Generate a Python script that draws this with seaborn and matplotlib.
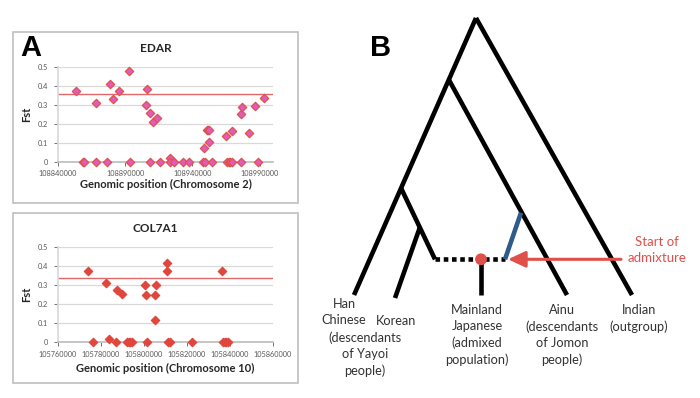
import matplotlib
matplotlib.use("Agg")
import matplotlib.pyplot as plt
from matplotlib.patches import Rectangle, Circle
import seaborn as sns
import pandas as pd

# ---- panel A data ----
edar_pos = [108853400, 108858300, 108859200, 108868000, 108868000, 108876200,
            108878700, 108880700, 108885400, 108892800, 108893600, 108906000,
            108905500, 108908500, 108908500, 108910700, 108913400, 108915600,
            108923100, 108923100, 108926600, 108933300, 108937500, 108947700,
            108949200, 108948700, 108950700, 108951700, 108952700, 108952700,
            108954400, 108965300, 108965700, 108967000, 108968200, 108969500,
            108969300, 108976000, 108977000, 108976000, 108981900, 108986800,
            108988800, 108993300]
edar_fst = [0.37, 0, 0, 0.31, 0, 0,
            0.41, 0.33, 0.37, 0.475, 0, 0.385,
            0.30, 0.255, 0, 0.207, 0.228, 0,
            0.02, 0, 0, 0, 0, 0,
            0, 0.07, 0.167, 0.167, 0.167, 0.103,
            0, 0.135, 0, 0, 0, 0,
            0.163, 0.25, 0.29, 0, 0.149, 0.295,
            0, 0.335]
edar_cut = 0.354
edar_ticks = [108840000, 108890000, 108940000, 108990000]

col_pos = [105774100, 105776500, 105782200, 105783600, 105787000, 105787300,
           105789600, 105792200, 105793000, 105793700, 105794300, 105800600,
           105800900, 105801200, 105805000, 105805600, 105805200, 105810500,
           105810500, 105811300, 105812100, 105822500, 105836200, 105836900,
           105837600, 105838300, 105839000]
col_fst = [0.373, 0, 0.308, 0.017, 0, 0.273,
           0.253, 0, 0, 0, 0, 0.30,
           0.245, 0, 0.245, 0.30, 0.117, 0.413,
           0.373, 0, 0, 0, 0.373, 0,
           0, 0, 0]
col_cut = 0.336
col_ticks = [105760000, 105780000, 105800000, 105820000, 105840000, 105860000]

fst_ticks = [0, 0.1, 0.2, 0.3, 0.4, 0.5]
fst_labels = ["0", "0.1", "0.2", "0.3", "0.4", "0.5"]

# ---- panel B tree (diagram coordinates, y grows downwards) ----
root = (476, 18)
tips = {"han": (354, 295), "korean": (395, 298), "japanese": (481, 295),
        "ainu": (567, 295), "indian": (632, 295)}
node_ainu = (449, 80)
node_han = (401, 188)
node_korean = (420, 227)
admix_left = (435, 259.3)
admix_node = (481, 259.3)
admix_right = (505, 259.3)
ainu_source = (521, 212.7)
arrow_from = (621, 259.3)
arrow_to = (508, 259.3)

# label block centres
tip_labels = [
    (344, 312.3, "Han\nChinese"),
    (365, 354, "(descendants\nof Yayoi\npeople)"),
    (396, 320.7, "Korean"),
    (477, 335, "Mainland\nJapanese\n(admixed\npopulation)"),
    (562, 335, "Ainu\n(descendants\nof Jomon\npeople)"),
    (639, 318.3, "Indian\n(outgroup)"),
]

sns.set_theme(style="white")
plt.rcParams["font.family"] = ["Lato", "DejaVu Sans"]

RED = "#e0504a"
PINK = "#e05cbc"
GRID = "#d9d9d9"
TXT = "#595959"

fig = plt.figure(figsize=(7, 3.98), dpi=100)

# overlay in pixel coordinates for frames, labels and the tree
bg = fig.add_axes([0, 0, 1, 1])
bg.set_xlim(0, 700)
bg.set_ylim(398, 0)
bg.axis("off")
bg.patch.set_alpha(0)

for top, h in [(32, 171), (213, 170)]:
    bg.add_patch(Rectangle((13, top), 285, h, fill=False, edgecolor="#bfbfbf", lw=1.2))

bg.text(31, 48, "A", fontsize=21, fontweight="bold", ha="center", va="center",
        color="black", family="Liberation Sans")
bg.text(381, 48, "B", fontsize=21, fontweight="bold", ha="center", va="center",
        color="black", family="Liberation Sans")


def fst_panel(ax, pos, fst, cut, ticks, xlim, face, edge, title, xlabel, title_y, xpad):
    df = pd.DataFrame({"pos": pos, "fst": fst})
    sns.scatterplot(data=df, x="pos", y="fst", marker="D", s=18, color=face,
                    edgecolor=edge, linewidth=0.9, ax=ax, zorder=3, clip_on=False)
    ax.axhline(cut, color="#e06868", lw=1.0, zorder=2)
    ax.set_xlim(*xlim)
    ax.set_ylim(0, 0.5)
    ax.set_xticks(ticks)
    ax.set_xticklabels([str(t) for t in ticks])
    ax.set_yticks(fst_ticks)
    ax.set_yticklabels(fst_labels)
    ax.yaxis.grid(True, color=GRID, lw=0.9)
    ax.xaxis.grid(False)
    ax.set_axisbelow(True)
    for s in ["top", "right"]:
        ax.spines[s].set_visible(False)
    ax.spines["left"].set_color(GRID)
    ax.spines["bottom"].set_color("#bfbfbf")
    ax.tick_params(axis="both", labelsize=5.3, colors=TXT, length=3, width=0.6,
                   direction="out", bottom=True, left=True)
    ax.tick_params(axis="x", pad=3)
    ax.tick_params(axis="y", pad=4)
    ax.set_xlabel(xlabel, fontsize=8, fontweight="bold", color="#262626", labelpad=xpad)
    ax.set_ylabel("Fst", fontsize=8, fontweight="bold", color="#262626", labelpad=4)
    ax.patch.set_alpha(0)
    bg.text(155.5, title_y, title, fontsize=8.5, fontweight="bold",
            ha="center", va="center", color="#262626")


ax1 = fig.add_axes([58 / 700, 1 - 161.7 / 398, 215 / 700, 95 / 398])
fst_panel(ax1, edar_pos, edar_fst, edar_cut, edar_ticks, (108840000, 109000000),
          PINK, RED, "EDAR", "Genomic position (Chromosome 2)", 48, 1.5)

ax2 = fig.add_axes([58 / 700, 1 - 342.3 / 398, 215 / 700, 95.6 / 398])
fst_panel(ax2, col_pos, col_fst, col_cut, col_ticks, (105760000, 105860000),
          "#e0463c", "#e0463c", "COL7A1", "Genomic position (Chromosome 10)", 228, 4)

# ---- panel B ----
LW = 3.3
branches = [
    (root, tips["han"]),
    (root, tips["indian"]),
    (node_ainu, tips["ainu"]),
    (node_han, admix_left),
    (node_korean, tips["korean"]),
    (admix_node, tips["japanese"]),
]
for a, b in branches:
    bg.plot([a[0], b[0]], [a[1], b[1]], color="black", lw=LW, solid_capstyle="butt")

bg.plot([admix_left[0], admix_right[0]], [admix_left[1], admix_right[1]],
        color="black", lw=LW, linestyle=(0, (1.0, 0.8)), dash_capstyle="butt")
bg.plot([ainu_source[0], admix_right[0]], [ainu_source[1], admix_right[1]],
        color="#2e5b8c", lw=LW, solid_capstyle="butt")
bg.add_patch(Circle(admix_node, 5.2, color=RED, zorder=5))

bg.annotate("", xy=arrow_to, xytext=arrow_from,
            arrowprops=dict(arrowstyle="-|>,head_length=0.75,head_width=0.35",
                            color=RED, lw=2.2, mutation_scale=14, shrinkA=0, shrinkB=0))
bg.text(657, 250, "Start of\nadmixture", color=RED, fontsize=9.5, ha="center",
        va="center", linespacing=1.5)

for x, y, s in tip_labels:
    bg.text(x, y, s, fontsize=9.2, color="#333333", ha="center", va="center",
            linespacing=1.42)

fig.savefig("out.png", dpi=100)
